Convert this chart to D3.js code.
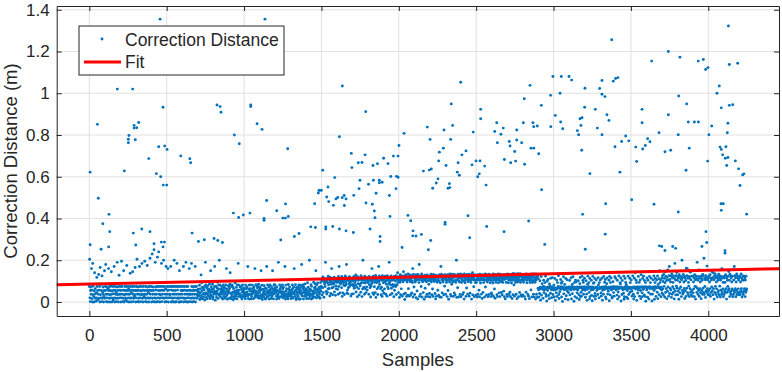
<!DOCTYPE html>
<html>
<head>
<meta charset="utf-8">
<script src="https://cdn.jsdelivr.net/npm/d3@7"></script>
<style>
  body { margin: 0; background: #fff; }
  text { font-family: "Liberation Sans", Arial, Helvetica, sans-serif; fill: #262626; }
</style>
</head>
<body>
<div id="chart"></div>
<script>
//************* data ***************/
var xTicks = [0, 500, 1000, 1500, 2000, 2500, 3000, 3500, 4000];
var yTicks = [0, 0.2, 0.4, 0.6, 0.8, 1, 1.2, 1.4];
var xDomain = [-211, 4457];
var yDomain = [-0.067, 1.418];

// fitted line, end points over the x range
var fitX = [-211, 4457];
var fitY = [0.0822, 0.1597];

// dense band: one row per 100 samples, one reading every 2 samples, in mm
var bandRows = [
  "74 205 20 2 55 72 37 160 16 57 0 185 76 35 27 0 53 140 18 64 39 3 20 45 118 74 8 55 18 37 132 16 57 74 0 165 35 20 85 55 2 125 18 46 72 37 0 27 55 150",
  "18 55 74 180 37 2 72 20 57 0 37 64 160 55 18 74 0 35 55 20 76 145 37 0 53 18 74 10 39 57 170 20 0 74 55 37 18 45 2 72 190 35 55 18 0 74 128 37 57 20",
  "37 74 0 55 195 20 74 37 2 18 57 150 0 35 55 74 20 8 37 55 74 175 2 18 55 37 74 64 0 20 37 55 138 74 18 0 45 57 20 74 145 37 2 55 18 74 27 35 165 55",
  "0 20 74 55 205 37 2 72 55 18 0 37 170 74 20 55 2 35 53 74 185 18 37 0 57 74 20 27 55 195 37 2 74 18 55 0 37 175 72 20 55 45 0 18 74 57 210 37 20 55",
  "74 0 55 230 18 37 72 2 55 250 20 0 37 190 72 18 57 37 0 74 215 2 20 55 240 74 37 18 0 55 35 74 20 185 57 2 37 74 20 55 200 18 57 74 0 37 20 64 170 2",
  "20 37 74 55 160 0 20 57 74 37 35 20 74 170 0 57 20 74 2 37 18 55 74 0 200 37 20 74 55 0 2 37 74 185 18 57 20 74 37 0 18 150 74 0 37 20 55 74 2 55",
  "37 20 74 55 170 0 18 57 74 37 2 18 190 55 74 0 37 20 74 55 0 37 20 160 57 2 37 37 55 18 185 74 0 37 20 55 72 2 18 55 37 74 170 0 20 57 74 37 18 55",
  "32 51 61 28 47 35 80 12 63 45 18 130 29 92 54 71 15 38 66 24 41 57 73 10 36 190 82 44 22 68 39 15 77 58 31 49 62 27 85 43 17 55 150 34 72 26 61 48 85 14",
  "25 61 38 47 73 170 51 9 44 76 36 22 68 53 95 40 17 62 81 33 200 38 82 26 61 45 52 74 19 37 64 14 48 82 55 27 71 39 18 66 48 82 27 160 61 35 13 52 42 77",
  "52 73 18 63 85 140 42 21 74 15 35 82 26 47 73 11 64 48 25 39 17 91 53 28 45 70 37 15 82 56 49 185 26 38 81 57 40 72 34 24 29 73 61 14 48 82 25 53 36 67",
  "61 47 25 38 16 81 33 64 45 72 48 28 170 35 16 62 81 36 14 53 82 64 37 15 27 52 38 81 43 65 16 47 72 58 21 160 31 44 83 26 52 78 34 67 41 19 72 85 28 56",
  "47 18 72 63 35 150 57 24 81 12 28 36 61 47 25 78 52 38 14 66 36 17 64 170 48 25 82 53 41 29 72 14 48 56 82 35 61 17 44 73 27 48 150 36 61 15 52 83 40 68",
  "82 63 51 47 28 14 72 56 39 24 35 190 51 17 48 82 63 26 45 71 51 48 26 36 82 63 19 71 47 35 48 26 170 35 14 81 52 64 37 23 26 37 15 84 61 46 28 72 57 39",
  "37 28 16 47 58 26 82 64 41 19 71 46 160 38 52 27 83 55 12 68 18 46 35 62 71 27 48 82 13 57 42 68 15 81 53 36 180 74 29 44 62 83 14 71 47 28 55 86 39 63",
  "27 48 16 39 58 92 35 71 44 17 48 200 61 28 37 59 83 14 75 52 36 18 27 49 53 95 41 67 24 88 72 58 150 46 19 83 35 62 91 27 58 47 26 71 39 18 64 93 52 75",
  "72 103 34 112 68 120 45 98 23 110 86 100 74 190 95 51 111 38 101 47 92 63 124 82 116 65 107 29 94 118 41 101 85 160 67 112 35 93 71 105 86 119 48 96 113 32 104 77 63 98",
  "94 113 61 102 37 122 74 170 93 105 43 111 86 101 96 68 122 27 113 44 103 92 81 114 36 107 78 125 95 118 84 180 43 104 57 111 39 68 102 88 121 74 116 93 105 29 82 113 38 101",
  "112 84 102 39 76 123 66 117 93 103 82 130 48 105 72 118 25 121 88 104 64 115 34 107 85 78 111 47 126 92 107 26 114 62 200 93 105 71 118 37 124 91 63 103 45 116 72 107 57 94",
  "103 93 115 37 122 83 104 68 113 24 76 101 87 160 94 111 43 124 105 36 112 73 95 106 45 127 22 117 92 104 63 113 36 101 72 170 97 125 84 114 106 63 118 35 71 104 27 126 54 113",
  "92 105 42 117 63 124 96 101 37 114 85 103 28 126 72 112 64 104 87 190 93 116 34 102 81 125 66 113 41 104 84 112 74 107 25 123 56 115 82 101 74 126 36 113 82 108 140 93 114 45",
  "103 117 22 124 95 131 35 106 63 112 125 28 118 104 97 145 38 124 116 12 105 42 131 113 126 27 104 96 118 33 135 64 121 107 28 118 130 97 108 36 115 126 44 101 93 160 24 132 117 72",
  "122 36 105 96 115 131 21 104 116 53 125 14 132 108 119 93 180 27 124 106 38 113 74 126 135 24 101 97 112 45 124 103 13 117 128 66 106 25 121 97 114 37 130 102 123 26 118 85 104 41",
  "104 24 113 124 133 96 107 35 126 62 116 27 132 106 98 121 115 41 103 15 128 122 28 117 95 105 56 124 116 33 102 131 24 126 92 118 170 23 133 107 44 124 117 96 107 35 128 127 76 113",
  "131 37 105 116 94 124 26 104 131 55 118 13 123 108 96 134 113 36 127 28 106 85 115 133 96 122 27 102 117 43 132 125 34 103 94 119 200 22 126 106 68 133 115 24 102 124 96 118 36 134",
  "115 25 126 94 107 131 36 118 123 45 102 14 135 116 92 124 105 27 118 67 123 132 38 106 97 114 125 28 133 104 42 118 126 94 106 14 131 115 140 34 124 106 73 114 25 131 126 93 104 33",
  "127 93 105 24 114 131 37 124 112 56 104 25 133 125 91 115 106 38 123 17 131 115 46 107 93 126 118 24 104 135 72 128 106 34 117 131 96 122 25 107 115 36 133 125 106 92 115 26 126 43",
  "103 36 116 124 91 135 27 104 113 62 123 18 132 107 94 116 125 35 106 26 113 135 92 127 44 104 115 26 133 123 97 46 104 116 35 107 94 115 131 52 124 25 108 113 15 132 125 94 113 36",
  "114 26 135 123 92 105 36 117 126 47 104 25 116 133 91 124 17 104 116 35 137 126 82 105 28 116 123 94 134 37 103 114 16 125 96 136 104 25 117 123 46 105 136 94 126 34 104 26 117 112",
  "126 34 104 95 116 132 26 127 118 14 107 47 134 125 92 117 106 36 124 28 115 132 16 103 93 126 114 58 104 135 24 126 93 102 117 37 134 128 24 107 95 117 14 134 105 37 116 124 23 127",
  "66 112 58 24 64 41 102 71 9 63 122 33 70 88 61 67 18 74 104 45 57 72 93 61 124 38 27 68 5 99 68 55 108 72 31 68 16 86 67 74 42 114 63 59 21 72 117 66 36 59",
  "63 81 24 68 113 57 8 61 66 44 105 27 62 93 67 74 126 36 17 68 49 67 72 108 61 90 24 72 97 3 64 71 121 39 67 58 84 62 14 113 64 30 71 66 107 52 67 11 45 68",
  "72 63 103 34 68 71 57 116 15 71 84 40 67 121 72 60 4 93 67 26 63 105 71 96 61 19 44 72 66 58 102 68 35 12 71 88 118 25 72 47 28 66 123 71 57 104 94 37 72 64",
  "114 72 56 23 68 102 71 38 8 61 85 124 67 73 93 46 15 113 26 72 64 57 104 32 67 6 72 123 59 90 27 93 67 113 41 14 28 71 106 68 55 71 64 36 116 82 63 20 93 68",
  "65 106 70 43 28 67 114 71 9 56 72 37 122 62 71 95 61 108 24 74 15 68 88 115 63 38 67 52 71 104 6 123 65 34 93 72 115 57 68 19 26 72 97 64 45 73 28 66 121 71",
  "71 113 57 72 65 33 104 14 72 48 63 125 25 71 67 93 86 115 5 66 71 36 103 64 59 68 42 124 13 25 62 113 73 94 67 84 23 71 55 72 16 124 63 36 71 68 114 47 93 63",
  "67 106 70 52 28 66 125 71 37 14 72 114 26 68 140 62 71 104 93 8 67 72 43 59 122 71 66 94 28 72 106 55 16 131 71 72 44 26 113 72 60 124 67 34 103 72 26 93 4 71",
  "72 58 115 67 23 104 71 45 14 72 123 64 72 93 37 114 68 71 5 64 38 66 106 71 125 55 13 73 93 114 66 27 69 105 72 47 125 16 84 68 112 35 71 150 93 63 105 25 71 57",
  "114 42 126 63 98 34 132 75 113 24 92 145 46 122 64 103 16 117 52 154 72 105 28 126 170 41 108 65 96 57 124 22 134 37 115 73 94 46 125 63 15 113 185 52 105 34 126 76 141 66",
  "104 35 116 52 124 13 131 64 96 44 113 72 123 26 107 200 55 116 38 132 47 96 65 124 17 115 54 103 27 162 66 126 160 45 114 36 94 76 123 26 113 64 142 47 106 34 124 55 150 27",
  "124 44 96 63 115 26 131 75 107 14 125 72 113 46 190 65 104 36 123 55 153 27 114 64 96 45 124 16 113 55 104 37 132 66 125 46 210 36 113 74 107 22 126 54 115 46 172 64 106 35",
  "115 53 124 36 96 63 131 27 114 46 106 72 145 53 116 35 140 64 107 14 124 46 134 75 115 36 96 63 124 24 115 46 104 54 133 35 126 76 114 24 105 56 123 36 160 46 115 63 94 25",
  "123 36 115 54 94 46 131 64 123 14 115 46 104 75 123 56 146 64 104 26 133 46 124 36 115 54 96 63 124 25 155 36 105 54 170 46 126 64 115 25 96 56 134 36 125 46 115 63 106 35",
  "115 46 124 36 96 53 134 64 115 24 106 46 125 36 104 53 124 64 115 26 105 46 124 55 63"
];

// scattered readings above the band: [sample, distance m]
var outliers = [
  [457,1.355],[1135,1.355],[181,1.02],[280,1.02],
  [1635,1.035],[2400,1.053],[2811,0.974],[2848,1.038],[2981,0.99],[2996,1.08],[3042,1.0],[3050,1.08],
  [3100,1.08],[3117,1.063],[3203,1.024],[3298,1.023],[3313,1.061],[3313,0.995],[3332,0.984],[3376,1.256],
  [3386,1.058],[3401,1.071],[3416,1.075],[3634,1.154],[3742,1.2],[3817,1.173],[3809,0.987],[3935,1.154],
  [3968,1.162],[3983,1.114],[3998,1.123],[4056,1.0],[4071,1.035],[4130,1.322],[4136,1.138],[4190,1.144],
  [5,0.622],[52,0.851],[58,0.497],[87,0.375],[127,0.42],[132,0.337],[5,0.274],[76,0.253],[125,0.264],
  [226,0.628],[252,0.763],[252,0.78],[256,0.798],[289,0.846],[289,0.833],[306,0.835],[319,0.86],[297,0.777],
  [384,0.687],[284,0.33],[300,0.273],[339,0.35],[392,0.337],[448,0.744],[433,0.615],[461,0.6],[476,0.933],
  [478,0.56],[500,0.56],[487,0.747],[502,0.731],[418,0.279],[465,0.287],[485,0.287],[476,0.264],[591,0.7],
  [649,0.686],[655,0.667],[664,0.33],[705,0.29],[743,0.298],[806,0.304],[830,0.295],[860,0.285],[825,0.944],
  [845,0.936],[851,0.909],[1043,0.944],[1043,0.936],[937,0.8],[969,0.758],[1084,0.854],[1116,0.827],
  [931,0.426],[965,0.405],[995,0.417],[1038,0.426],[1146,0.486],[1211,0.437],[1129,0.4],[1129,0.392],
  [1250,0.402],[1267,0.402],[1282,0.734],[1268,0.47],[1237,0.297],[1286,0.41],[1325,0.314],[1355,0.328],
  [1431,0.36],[1461,0.357],[1528,0.36],[1528,0.35],[1573,0.362],[1616,0.35],[1659,0.341],[1706,0.333],
  [1814,0.35],[1616,0.792],[1508,0.631],[1456,0.471],[1480,0.522],[1484,0.535],[1490,0.535],[1500,0.535],
  [1542,0.551],[1534,0.503],[1547,0.481],[1577,0.463],[1586,0.596],[1594,0.494],[1605,0.501],[1634,0.5],
  [1647,0.51],[1648,0.462],[1659,0.494],[1709,0.511],[1693,0.712],[1697,0.644],[1738,0.667],[1743,0.543],
  [1749,0.583],[1762,0.668],[1782,0.705],[1786,0.912],[1788,0.474],[1804,0.564],[1829,0.468],[1833,0.654],
  [1836,0.583],[1842,0.436],[1846,0.404],[1853,0.521],[1862,0.662],[1874,0.571],[1874,0.583],
  [1879,0.314],[1879,0.29],[1892,0.574],[1902,0.689],[1930,0.663],[1939,0.51],[1943,0.41],[1948,0.601],
  [1965,0.699],[1995,0.699],[1985,0.602],[1995,0.598],[1982,0.543],[2001,0.75],[2034,0.808],[2059,0.415],
  [2077,0.389],[2021,0.261],[2092,0.341],[2090,0.317],[2111,0.316],[2146,0.324],[2159,0.627],[2184,0.838],
  [2202,0.779],[2197,0.632],[2210,0.637],[2219,0.545],[2206,0.295],[2191,0.25],[2242,0.57],[2253,0.59],
  [2258,0.676],[2262,0.718],[2288,0.737],[2292,0.824],[2299,0.381],[2299,0.372],[2305,0.654],[2318,0.545],
  [2329,0.548],[2327,0.567],[2335,0.779],[2339,0.949],[2348,0.846],[2378,0.622],[2391,0.607],[2383,0.667],
  [2408,0.705],[2434,0.724],[2447,0.413],[2458,0.308],[2473,0.657],[2481,0.814],[2499,0.676],[2525,0.676],
  [2510,0.6],[2520,0.614],[2529,0.923],[2529,0.878],[2555,0.651],[2564,0.56],[2568,0.362],[2620,0.817],
  [2633,0.859],[2637,0.763],[2660,0.804],[2675,0.833],[2680,0.337],[2682,0.683],[2714,0.769],[2719,0.747],
  [2723,0.667],[2749,0.721],[2755,0.675],[2762,0.824],[2762,0.776],[2794,0.763],[2805,0.859],[2813,0.66],
  [2839,0.388],[2854,0.737],[2872,0.737],[2867,0.859],[2872,0.84],[2895,0.843],[2904,0.71],[2921,0.942],
  [2923,0.538],[2943,0.276],[2982,0.84],[3011,0.894],[3046,0.862],[3059,0.83],[3154,0.821],[3162,0.801],
  [3171,0.878],[3177,0.846],[3184,0.883],[3182,0.727],[3188,0.42],[3201,0.933],[3205,0.253],[3235,0.615],
  [3270,0.923],[3283,0.833],[3313,0.801],[3337,0.471],[3334,0.325],[3345,0.897],[3358,0.87],[3397,0.744],
  [3429,0.622],[3440,0.769],[3466,0.795],[3486,0.772],[3505,0.49],[3531,0.742],[3537,0.673],[3572,0.923],
  [3572,0.859],[3576,0.733],[3593,0.75],[3608,0.782],[3623,0.768],[3649,0.468],[3682,0.811],[3699,0.266],
  [3684,0.269],[3720,0.247],[3720,0.72],[3742,0.897],[3757,0.727],[3770,0.266],[3789,0.257],[3806,0.801],
  [3806,0.431],[3860,0.949],[3856,0.631],[3871,0.862],[3877,0.737],[3910,0.862],[3936,0.862],[3959,0.266],
  [3985,0.337],[3990,0.285],[3996,0.675],[4004,0.801],[4022,0.843],[4084,0.93],[4136,0.942],[4158,0.945],
  [4076,0.742],[4084,0.731],[4093,0.705],[4110,0.689],[4127,0.692],[4114,0.744],[4123,0.811],[4127,0.856],
  [4119,0.654],[4175,0.676],[4196,0.638],[4205,0.558],[4222,0.609],[4230,0.614],[4082,0.471],[4097,0.471],
  [4084,0.439],[4248,0.421],[4108,0.246],[4108,0.234]
];

//************* set dimensions ***************/
var width = 782, height = 372;
var plot = {left: 56.7, right: 779, top: 6, bottom: 316};
var dotColor = "#0072bd";
var axisColor = "#262626";
var font = '"Liberation Sans", Arial, Helvetica, sans-serif';

var svg = d3.select("#chart")
  .append("svg")
    .attr("width", width)
    .attr("height", height);

//************* scales ***************/
var x = d3.scaleLinear().domain(xDomain).range([plot.left, plot.right]);
var y = d3.scaleLinear().domain(yDomain).range([plot.bottom, plot.top]);

//************* build points ***************/
var points = [];
bandRows.forEach(function(row, k){
  row.trim().split(/\s+/).forEach(function(mm, i){
    points.push([100 * k + 2 * i, +mm / 1000]);
  });
});
outliers.forEach(function(d){ points.push(d); });

//************* grid ***************/
var grid = svg.append("g").attr("class", "grid");
grid.selectAll(".gx").data(xTicks).enter().append("line")
  .attr("x1", function(d){ return x(d); })
  .attr("x2", function(d){ return x(d); })
  .attr("y1", plot.top).attr("y2", plot.bottom)
  .attr("stroke", "#e1e1e1").attr("stroke-width", 1);
grid.selectAll(".gy").data(yTicks).enter().append("line")
  .attr("x1", plot.left).attr("x2", plot.right)
  .attr("y1", function(d){ return y(d); })
  .attr("y2", function(d){ return y(d); })
  .attr("stroke", "#e1e1e1").attr("stroke-width", 1);

//************* dots ***************/
svg.append("g")
  .selectAll("circle")
  .data(points)
  .enter()
  .append("circle")
    .attr("cx", function(d){ return x(d[0]); })
    .attr("cy", function(d){ return y(d[1]); })
    .attr("r", 1.45)
    .attr("fill", dotColor);

//************* fit line ***************/
svg.append("line")
  .attr("x1", x(fitX[0])).attr("y1", y(fitY[0]))
  .attr("x2", x(fitX[1])).attr("y2", y(fitY[1]))
  .attr("stroke", "#ff0000")
  .attr("stroke-width", 3);

//***************** axes *******************/
function styleAxis(g){
  g.attr("font-family", font).attr("font-size", 17);
  g.selectAll("path").attr("stroke", axisColor);
  g.selectAll("line").attr("stroke", axisColor);
  g.selectAll("text").attr("fill", axisColor);
}

svg.append("g")
  .attr("transform", "translate(0," + plot.bottom + ")")
  .call(d3.axisBottom(x).tickValues(xTicks).tickSize(-5).tickSizeOuter(0).tickPadding(13)
        .tickFormat(function(d){ return String(d); }))
  .call(styleAxis);

svg.append("g")
  .attr("transform", "translate(0," + plot.top + ")")
  .call(d3.axisTop(x).tickValues(xTicks).tickSize(-5).tickSizeOuter(0).tickFormat(""))
  .call(styleAxis);

svg.append("g")
  .attr("transform", "translate(" + plot.left + ",0)")
  .call(d3.axisLeft(y).tickValues(yTicks).tickSize(-5).tickSizeOuter(0).tickPadding(7)
        .tickFormat(function(d){ return String(d); }))
  .call(styleAxis);

svg.append("g")
  .attr("transform", "translate(" + plot.right + ",0)")
  .call(d3.axisRight(y).tickValues(yTicks).tickSize(-5).tickSizeOuter(0).tickFormat(""))
  .call(styleAxis);

//************* labels ***************/
svg.append("text")
  .attr("x", (plot.left + plot.right) / 2)
  .attr("y", 366)
  .attr("text-anchor", "middle")
  .attr("font-size", "18.5px")
  .text("Samples");

svg.append("text")
  .attr("transform", "translate(17," + ((plot.top + plot.bottom) / 2) + ") rotate(-90)")
  .attr("text-anchor", "middle")
  .attr("font-size", "18.5px")
  .text("Correction Distance (m)");

//************* legend ***************/
var legend = svg.append("g");
legend.append("rect")
  .attr("x", 79).attr("y", 26)
  .attr("width", 205).attr("height", 49)
  .attr("fill", "#fff")
  .attr("stroke", axisColor);
legend.append("circle")
  .attr("cx", 102).attr("cy", 39).attr("r", 1.45)
  .attr("fill", dotColor);
legend.append("text")
  .attr("x", 125).attr("y", 46)
  .attr("font-size", "17.5px")
  .text("Correction Distance");
legend.append("line")
  .attr("x1", 84).attr("x2", 121)
  .attr("y1", 62).attr("y2", 62)
  .attr("stroke", "#ff0000").attr("stroke-width", 3);
legend.append("text")
  .attr("x", 125).attr("y", 68)
  .attr("font-size", "17.5px")
  .text("Fit");
</script>
</body>
</html>
